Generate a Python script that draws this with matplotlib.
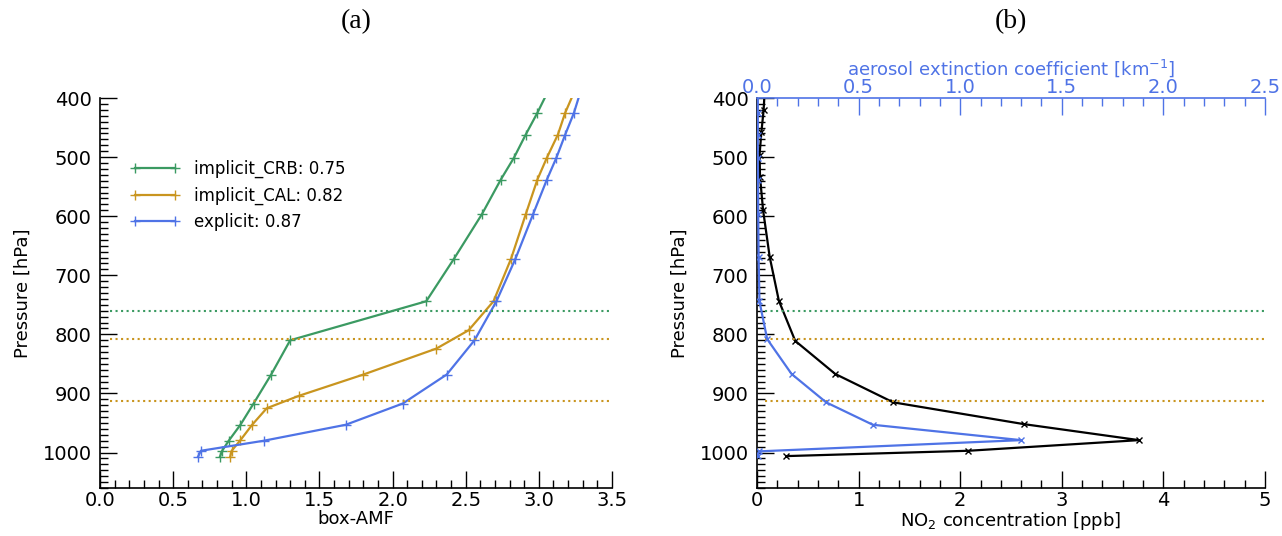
import matplotlib
matplotlib.use('Agg')
import matplotlib.pyplot as plt
from matplotlib.ticker import MultipleLocator, FormatStrFormatter

# pressure levels [hPa] (surface -> top)
pres = [1007, 997, 980, 953, 917, 868, 810, 744, 672, 597, 538, 501, 462, 425, 385]

# box-AMF profiles
amf_crb = [0.82, 0.835, 0.88, 0.96, 1.05, 1.17, 1.30, 2.23, 2.42, 2.61, 2.74, 2.83, 2.91, 2.99, 3.07]
amf_cal_p = [1007, 997, 979, 953, 925, 904, 868, 824, 793, 744, 672, 597, 538, 501, 462, 425, 385]
amf_cal = [0.89, 0.90, 0.96, 1.04, 1.14, 1.36, 1.80, 2.30, 2.52, 2.69, 2.81, 2.91, 2.99, 3.055, 3.13, 3.18, 3.25]
amf_exp = [0.67, 0.69, 1.12, 1.68, 2.07, 2.37, 2.56, 2.71, 2.84, 2.96, 3.055, 3.12, 3.18, 3.24, 3.29]

legend_crb = 'implicit_CRB: 0.75'
legend_cal = 'implicit_CAL: 0.82'
legend_exp = 'explicit: 0.87'

# NO2 and aerosol profiles
no2_p = [1006, 997, 979, 952, 915, 867, 811, 743, 669, 590, 534, 497, 458, 421, 390]
no2 = [0.29, 2.08, 3.76, 2.63, 1.34, 0.77, 0.376, 0.215, 0.125, 0.06, 0.03, 0.025, 0.043, 0.065, 0.075]
aer_p = [1006, 998, 979, 953, 915, 867, 808, 744, 669, 597, 538, 501, 462, 425, 390]
aer = [0.004, 0.01, 1.30, 0.57, 0.34, 0.17, 0.05, 0.012, 0.008, 0.006, 0.005, 0.004, 0.004, 0.004, 0.004]

# cloud/aerosol layer heights
crb_level = 760
cal_levels = [808, 913]

green = '#3b9a62'
orange = '#c9951f'
blue = '#4f73e6'

plt.rcParams['font.family'] = ['DejaVu Sans']
plt.rcParams['font.size'] = 13

fig = plt.figure(figsize=(12.82, 5.36), dpi=100)
ax1 = fig.add_axes([100 / 1282, 48 / 536, 512 / 1282, 390 / 536])
ax2 = fig.add_axes([757 / 1282, 48 / 536, 508 / 1282, 390 / 536])


def style_pressure_axis(ax):
    ax.set_ylim(1060, 400)
    ax.yaxis.set_major_locator(MultipleLocator(100))
    ax.yaxis.set_minor_locator(MultipleLocator(10))
    ax.spines['right'].set_visible(False)
    ax.tick_params(axis='y', which='major', direction='in', length=12, width=1, labelsize=14, pad=6)
    ax.tick_params(axis='y', which='minor', direction='in', length=6, width=1)
    ax.tick_params(axis='x', which='major', direction='in', length=12, width=1, labelsize=14, pad=2)
    ax.tick_params(axis='x', which='minor', direction='in', length=6, width=1)
    for s in ax.spines.values():
        s.set_linewidth(1.2)
    ax.set_ylabel('Pressure [hPa]', fontsize=13, labelpad=8)


# panel (a)
style_pressure_axis(ax1)
ax1.spines['top'].set_visible(False)
ax1.plot(amf_crb, pres, '-+', color=green, lw=1.6, ms=7, label=legend_crb)
ax1.plot(amf_cal, amf_cal_p, '-+', color=orange, lw=1.6, ms=7, label=legend_cal)
ax1.plot(amf_exp, pres, '-+', color=blue, lw=1.6, ms=7, label=legend_exp)
ax1.axhline(crb_level, xmin=0.02, color=green, ls=':', lw=1.5, clip_on=False)
for lv in cal_levels:
    ax1.axhline(lv, xmin=0.02, color=orange, ls=':', lw=1.5, clip_on=False)
ax1.set_xlim(0, 3.5)
ax1.xaxis.set_major_locator(MultipleLocator(0.5))
ax1.xaxis.set_minor_locator(MultipleLocator(0.1))
ax1.xaxis.set_major_formatter(FormatStrFormatter('%.1f'))
ax1.set_xlabel('box-AMF', fontsize=13, labelpad=0)
ax1.legend(loc='upper left', bbox_to_anchor=(0.03, 0.88), frameon=False, fontsize=12,
           handlelength=3, numpoints=2, labelspacing=0.5)
ax1.set_title('(a)', family='Liberation Serif', fontsize=20, pad=50)

# panel (b)
style_pressure_axis(ax2)
ax2.plot(no2, no2_p, '-x', color='black', lw=1.6, ms=5)
ax2.axhline(crb_level, xmin=0.015, color=green, ls=':', lw=1.5)
for lv in cal_levels:
    ax2.axhline(lv, xmin=0.015, color=orange, ls=':', lw=1.5)
ax2.set_xlim(0, 5)
ax2.xaxis.set_major_locator(MultipleLocator(1))
ax2.xaxis.set_minor_locator(MultipleLocator(0.2))
ax2.set_xlabel('NO$_2$ concentration [ppb]', fontsize=13, labelpad=0)
ax2.spines['top'].set_visible(False)

ax3 = ax2.twiny()
ax3.plot(aer, aer_p, '-x', color=blue, lw=1.6, ms=5)
ax3.set_xlim(0, 2.5)
ax3.set_ylim(1060, 400)
ax3.xaxis.set_major_locator(MultipleLocator(0.5))
ax3.xaxis.set_minor_locator(MultipleLocator(0.1))
ax3.xaxis.set_major_formatter(FormatStrFormatter('%.1f'))
ax3.tick_params(axis='x', which='major', direction='in', length=12, width=1, colors=blue,
                labelsize=14, pad=1)
ax3.tick_params(axis='x', which='minor', direction='in', length=6, width=1, colors=blue)
for side in ['right', 'bottom', 'left']:
    ax3.spines[side].set_visible(False)
ax3.spines['top'].set_color(blue)
ax3.spines['top'].set_linewidth(1.2)
ax3.set_xlabel('aerosol extinction coefficient [km$^{-1}$]', color=blue, fontsize=13, labelpad=2)
ax2.set_title('(b)', family='Liberation Serif', fontsize=20, pad=50)

fig.savefig('out.png', dpi=100)
